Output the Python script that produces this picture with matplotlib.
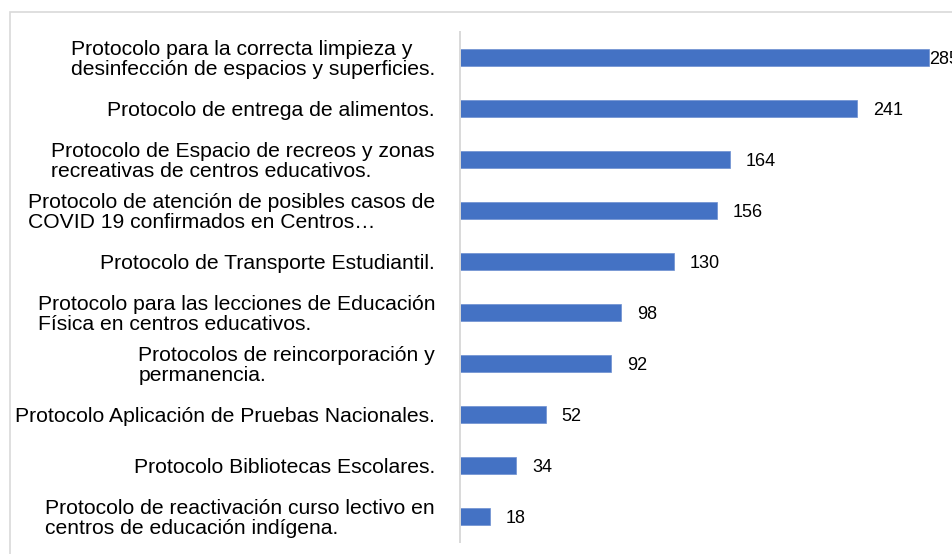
import matplotlib
matplotlib.use("Agg")
import matplotlib.pyplot as plt
from matplotlib.patches import Rectangle

plt.rcParams['font.family'] = ['Liberation Sans', 'DejaVu Sans']

categories = [
    "Protocolo para la correcta limpieza y\ndesinfección de espacios y superficies.",
    "Protocolo de entrega de alimentos.",
    "Protocolo de Espacio de recreos y zonas\nrecreativas de centros educativos.",
    "Protocolo de atención de posibles casos de\nCOVID 19 confirmados en Centros…",
    "Protocolo de Transporte Estudiantil.",
    "Protocolo para las lecciones de Educación\nFísica en centros educativos.",
    "Protocolos de reincorporación y\npermanencia.",
    "Protocolo Aplicación de Pruebas Nacionales.",
    "Protocolo Bibliotecas Escolares.",
    "Protocolo de reactivación curso lectivo en\ncentros de educación indígena.",
]
values = [285, 241, 164, 156, 130, 98, 92, 52, 34, 18]

W, H = 952, 554
fig = plt.figure(figsize=(W / 100, H / 100), dpi=100)
ax = fig.add_axes([460 / W, 1 - 542 / H, (W - 460) / W, (542 - 32) / H])

pos = list(range(len(values)))
ax.barh(pos, values, height=0.35, color='#4472C4', edgecolor='#6C8FD0', linewidth=0.5)
ax.set_ylim(len(values) - 0.5, -0.5)
ax.set_xlim(0, (W - 460) / 1.646)

ax.set_yticks(pos)
ax.set_yticklabels(categories, fontsize=15.2, color='black', multialignment='left',
                   linespacing=1.03)
ax.tick_params(axis='y', length=0, pad=18)
ax.set_xticks([])

for s in ['top', 'right', 'bottom']:
    ax.spines[s].set_visible(False)
ax.spines['left'].set_color('#D9D9D9')
ax.spines['left'].set_linewidth(1.4)

for i, v in enumerate(values):
    off = 0 if i == 0 else 11.5
    ax.annotate(str(v), (v, i), xytext=(off, -1.5), textcoords='offset points',
                ha='left', va='center', fontsize=13, color='black',
                annotation_clip=False)

fig.patches.append(Rectangle((9.5 / W, -0.1), 1.2, 1.1 - 12 / H, transform=fig.transFigure,
                             fill=False, edgecolor='#D9D9D9', linewidth=1.2))

fig.savefig('out.png', dpi=100)
